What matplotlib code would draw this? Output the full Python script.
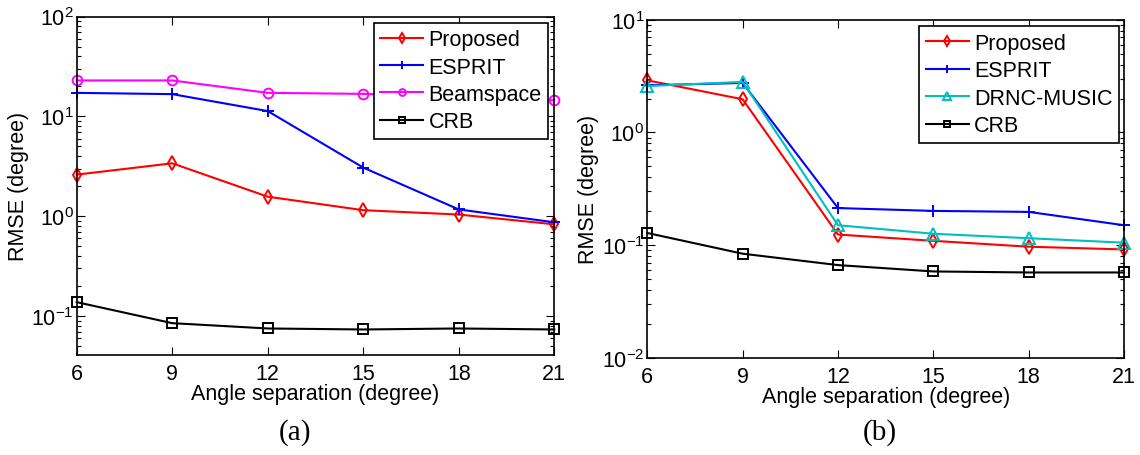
import numpy as np
import matplotlib
matplotlib.use('Agg')
import matplotlib.pyplot as plt
from matplotlib.ticker import FuncFormatter, LogLocator, NullFormatter

plt.rcParams['font.family'] = ['Liberation Sans', 'DejaVu Sans']
plt.rcParams['mathtext.fontset'] = 'custom'
plt.rcParams['mathtext.rm'] = 'Liberation Sans'

# angle separation (degree)
sep = [6, 9, 12, 15, 18, 21]

# panel (a) RMSE
a_proposed = [2.61, 3.39, 1.57, 1.15, 1.04, 0.83]
a_esprit = [17.2, 16.7, 11.3, 3.07, 1.17, 0.87]
a_beamspace = [22.9, 22.9, 17.2, 16.8, 15.6, 14.5]
a_crb = [0.138, 0.085, 0.0752, 0.0735, 0.0752, 0.0735]

# panel (b) RMSE
b_proposed = [2.90, 1.97, 0.124, 0.109, 0.0967, 0.0914]
b_esprit = [2.62, 2.75, 0.213, 0.201, 0.197, 0.150]
b_drnc = [2.58, 2.81, 0.150, 0.126, 0.115, 0.105]
b_crb = [0.128, 0.0838, 0.0664, 0.0583, 0.0571, 0.0571]

fs = 15.5
cyan = '#00bfbf'


def decade_fmt(v, pos):
    e = int(round(np.log10(v)))
    return r'$\mathregular{10^{%d}}$' % e


def style_axes(ax, ylim):
    ax.set_yscale('log')
    ax.set_xlim(6, 21)
    ax.set_ylim(*ylim)
    ax.set_xticks(sep)
    ax.yaxis.set_major_locator(LogLocator(base=10, numticks=10))
    ax.yaxis.set_minor_locator(LogLocator(base=10, subs=np.arange(2, 10), numticks=20))
    ax.yaxis.set_major_formatter(FuncFormatter(decade_fmt))
    ax.yaxis.set_minor_formatter(NullFormatter())
    ax.tick_params(which='both', direction='in', top=True, right=True, labelsize=fs, width=0.8)
    ax.tick_params(which='major', length=5.5)
    ax.tick_params(which='minor', length=3)
    ax.tick_params(axis='x', pad=6)
    ax.tick_params(axis='y', pad=2)
    for s in ax.spines.values():
        s.set_linewidth(1.2)
    ax.set_xlabel('Angle separation (degree)', fontsize=fs, labelpad=-1)
    ax.set_ylabel('RMSE (degree)', fontsize=fs, labelpad=2)


def draw(ax, y, color, marker, ms, label):
    ax.plot(sep, y, color=color, lw=1.5, marker=marker, ms=ms, mfc='none',
            mew=1.4, label=label, clip_on=False)


fig = plt.figure(figsize=(11.4, 4.56), dpi=100)
ax1 = fig.add_axes([0.0673, 0.2193, 0.4189, 0.7423])
ax2 = fig.add_axes([0.5678, 0.2134, 0.4182, 0.741])

draw(ax1, a_proposed, 'red', 'd', 7, 'Proposed')
draw(ax1, a_esprit, 'blue', '+', 9, 'ESPRIT')
draw(ax1, a_beamspace, 'magenta', 'o', 7, 'Beamspace')
draw(ax1, a_crb, 'black', 's', 7, 'CRB')
style_axes(ax1, (0.0408, 100))

draw(ax2, b_proposed, 'red', 'd', 7, 'Proposed')
draw(ax2, b_esprit, 'blue', '+', 9, 'ESPRIT')
draw(ax2, b_drnc, cyan, '^', 8, 'DRNC-MUSIC')
draw(ax2, b_crb, 'black', 's', 7, 'CRB')
style_axes(ax2, (0.01, 10))

for ax, anchor in [(ax1, (0.9875, 0.982)), (ax2, (0.9895, 0.981))]:
    leg = ax.legend(loc='upper right', bbox_to_anchor=anchor, borderaxespad=0,
                    fontsize=fs, fancybox=False, framealpha=1, edgecolor='black',
                    handlelength=2.0, handletextpad=0.25, labelspacing=0.3,
                    borderpad=0.3, markerscale=0.7)
    leg.get_frame().set_linewidth(1.2)
    leg.set_zorder(5)

fig.text(294.7 / 1140, 1 - 433 / 456, '(a)', fontsize=21, family='Liberation Serif',
         ha='center', va='center')
fig.text(879.7 / 1140, 1 - 433 / 456, '(b)', fontsize=21, family='Liberation Serif',
         ha='center', va='center')

fig.savefig('out.png', dpi=100)
